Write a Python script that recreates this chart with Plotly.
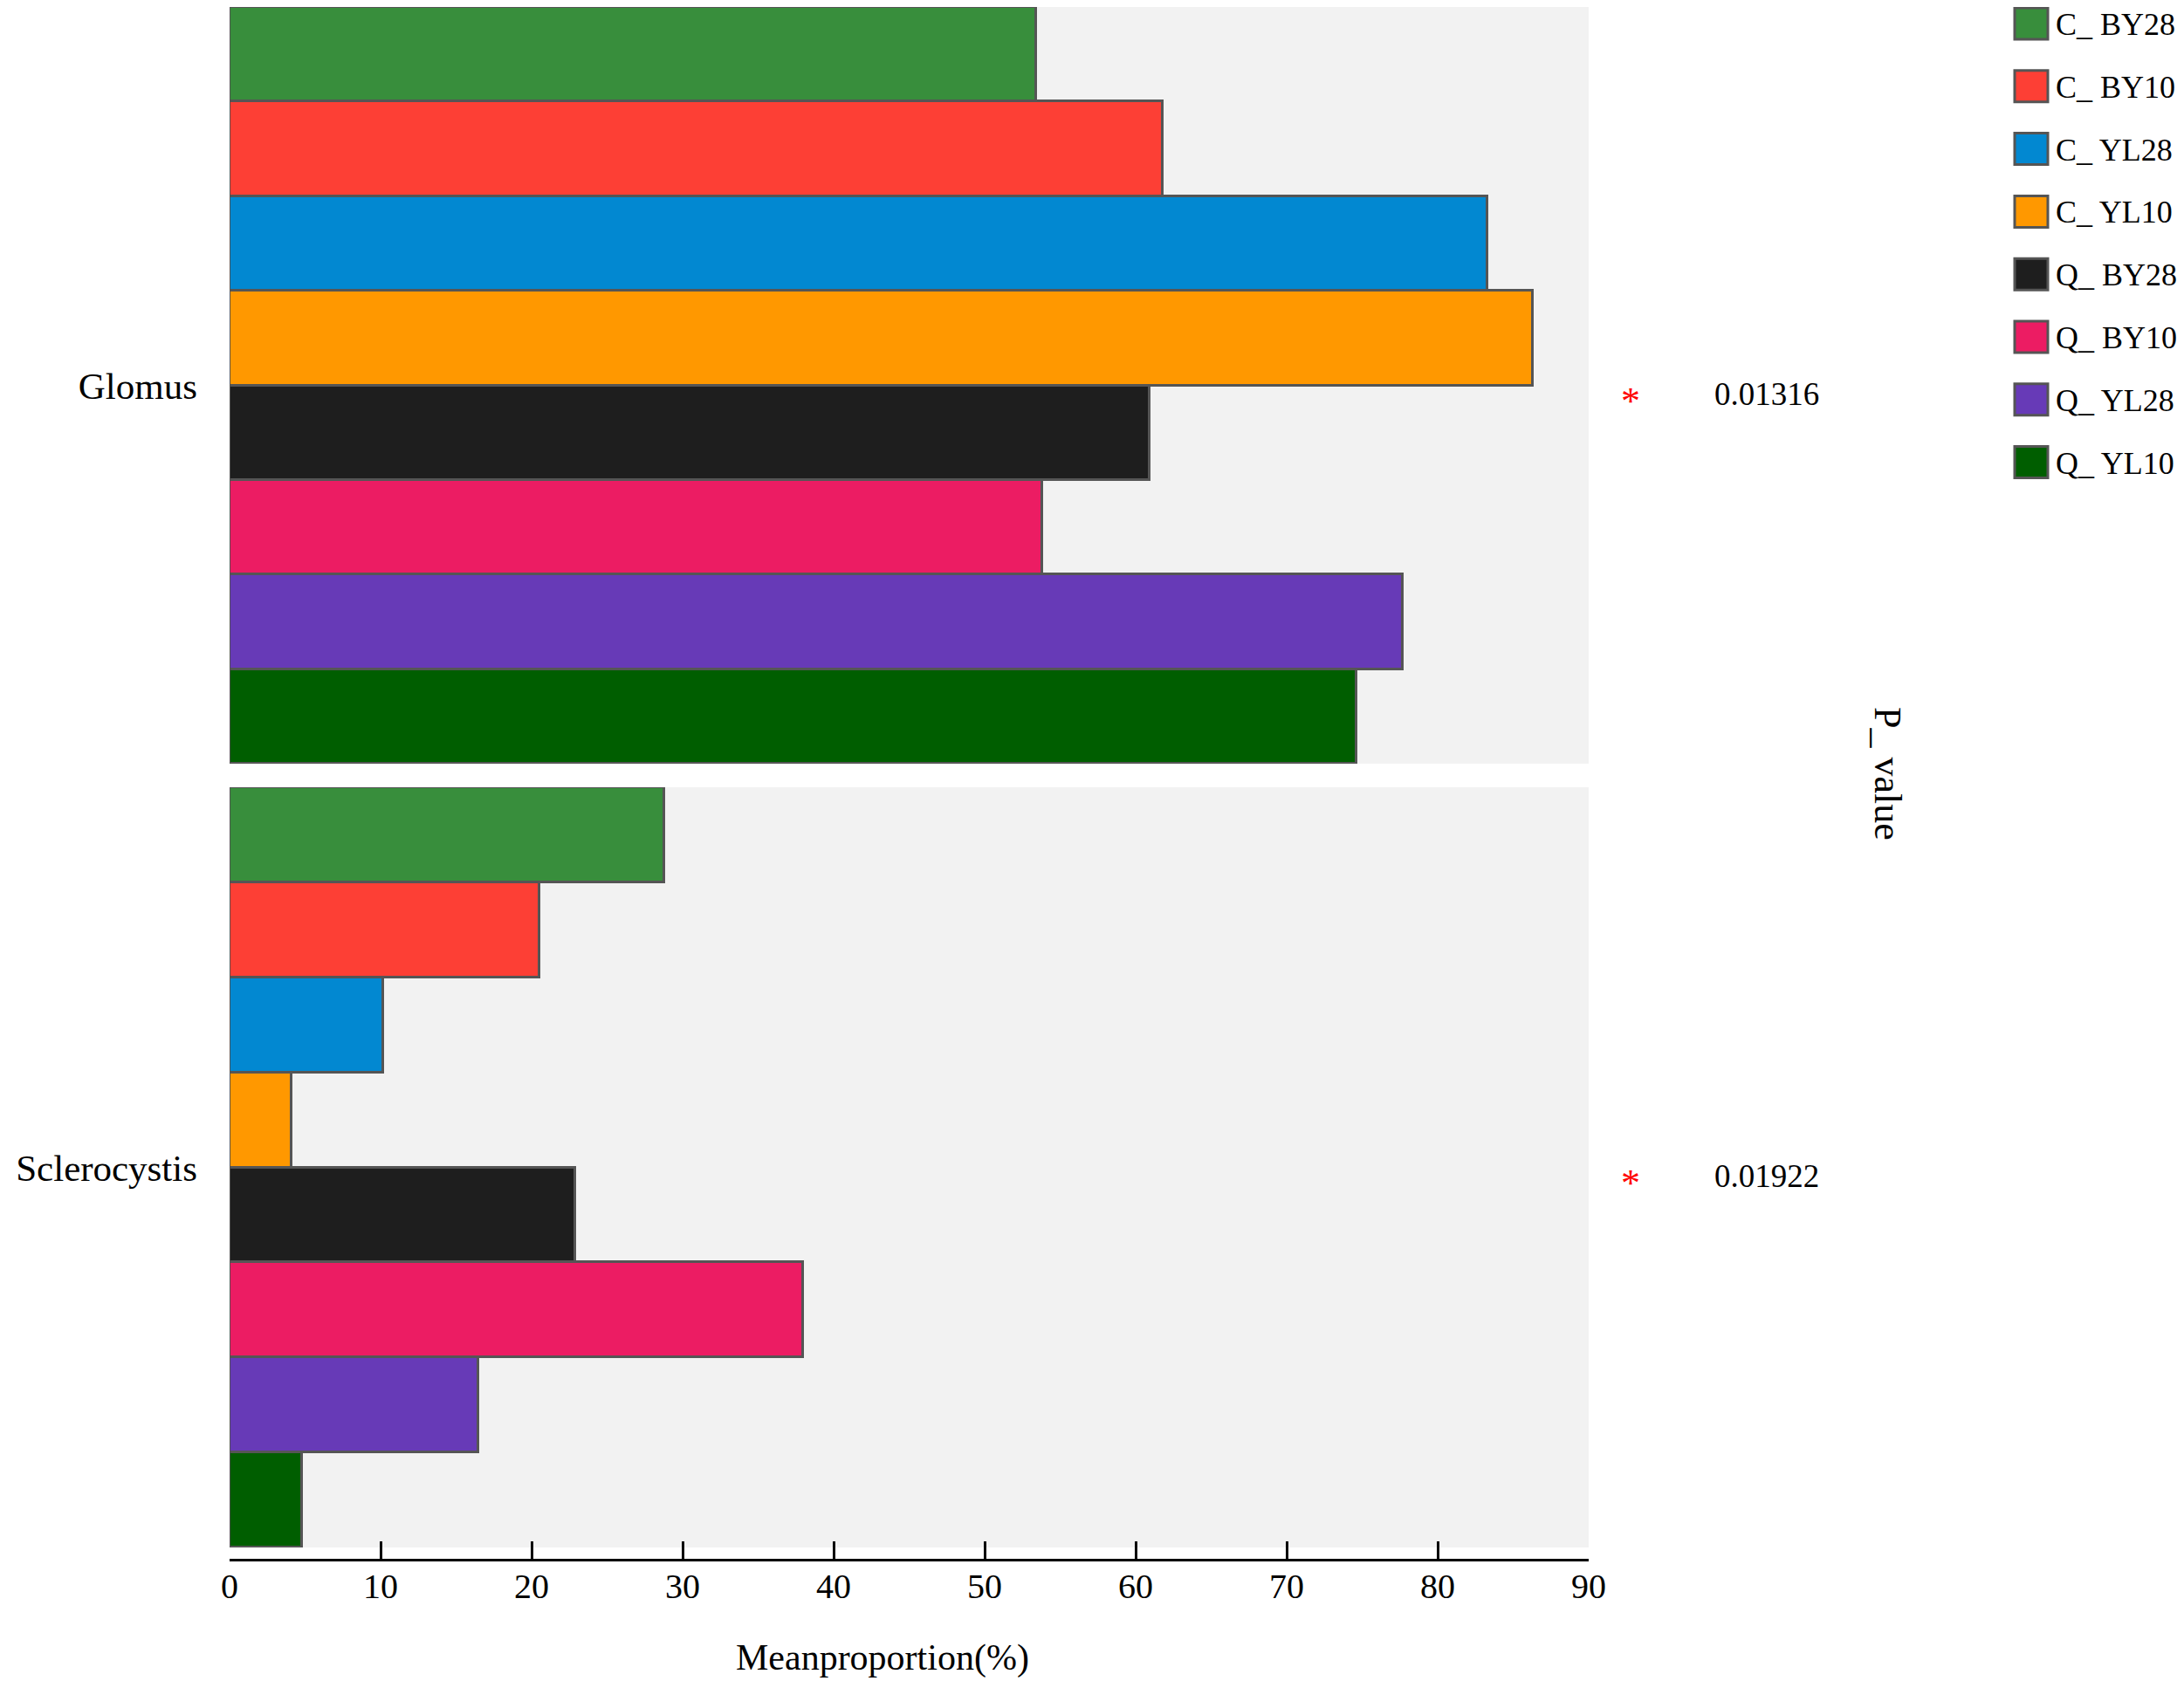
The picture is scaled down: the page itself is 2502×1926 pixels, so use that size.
import plotly.graph_objects as go

# data
genera = ["Glomus", "Sclerocystis"]
groups = ["C_ BY28", "C_ BY10", "C_ YL28", "C_ YL10", "Q_ BY28", "Q_ BY10", "Q_ YL28", "Q_ YL10"]
glomus_values = [53.4, 61.8, 83.3, 86.3, 60.9, 53.8, 77.7, 74.6]
sclerocystis_values = [28.8, 20.5, 10.2, 4.1, 22.9, 38.0, 16.5, 4.8]
p_values = ["0.01316", "0.01922"]

colors = ["#388E3C", "#FD3F35", "#0288D1", "#FF9800", "#1E1E1E", "#EC1C63", "#673AB7", "#005E00"]

FONT = "Liberation Serif"
W, H = 2502, 1926
OFF = 8  # the page body margin shifts the figure by 8px
M_L, M_R, M_T, M_B = 263 - OFF, 682 + OFF, 8 - OFF, 139 + OFF
PLOT_W = W - M_L - M_R
PLOT_H = H - M_T - M_B


def px_x(px):
    """Screen pixel x -> paper x."""
    return (px - OFF - M_L) / PLOT_W


def px_y(py):
    """Screen pixel y (from top) -> paper y."""
    return (H - M_B - (py - OFF)) / PLOT_H


fig = go.Figure()

panels = [("x", "y", glomus_values), ("x2", "y2", sclerocystis_values)]
for (xa, ya, values), genus in zip(panels, genera):
    for name, val, color in zip(groups, values, colors):
        fig.add_trace(
            go.Bar(
                x=[val],
                y=[genus],
                orientation="h",
                name=name,
                marker=dict(color=color, line=dict(color="#555555", width=3)),
                xaxis=xa,
                yaxis=ya,
                showlegend=False,
            )
        )

axis_y = dict(
    type="category",
    autorange="reversed",
    showline=False,
    showgrid=False,
    ticks="",
    ticklabelstandoff=36,
    tickfont=dict(family=FONT, size=43, color="black"),
)

fig.update_layout(
    width=W,
    height=H,
    margin=dict(l=M_L, r=M_R, t=M_T, b=M_B),
    paper_bgcolor="white",
    plot_bgcolor="#F2F2F2",
    barmode="group",
    bargap=0,
    bargroupgap=0,
    showlegend=False,
    font=dict(family=FONT, color="black"),
    xaxis=dict(domain=[0, 1], range=[0, 90], anchor="y", visible=False),
    yaxis=dict(domain=[px_y(875), px_y(8)], anchor="x", **axis_y),
    xaxis2=dict(
        domain=[0, 1],
        range=[0, 90],
        matches="x",
        anchor="free",
        position=0,
        tickmode="linear",
        tick0=0,
        dtick=10,
        ticks="inside",
        ticklen=20,
        tickwidth=3,
        tickcolor="black",
        showline=True,
        linecolor="black",
        linewidth=3,
        showgrid=False,
        zeroline=False,
        ticklabelstandoff=-6,
        tickfont=dict(family=FONT, size=40, color="black"),
    ),
    yaxis2=dict(domain=[px_y(1773), px_y(902)], anchor="x2", **axis_y),
)

# x axis title
fig.add_annotation(
    x=px_x(1011), y=px_y(1899), xref="paper", yref="paper", text="Meanproportion(%)",
    showarrow=False, xanchor="center", yanchor="middle",
    font=dict(family=FONT, size=42, color="black"),
)

# significance stars and p-values
for ya, pv in zip(["y", "y2"], p_values):
    fig.add_annotation(
        x=px_x(1868), y=0, xref="paper", yref=ya, text="*", showarrow=False,
        xanchor="center", font=dict(family=FONT, size=44, color="red"), yshift=-18,
    )
    fig.add_annotation(
        x=px_x(2024), y=0, xref="paper", yref=ya, text=pv, showarrow=False,
        xanchor="center", font=dict(family=FONT, size=37, color="black"), yshift=-10,
    )

fig.add_annotation(
    x=px_x(2163), y=px_y(886), xref="paper", yref="paper", text="P_ value",
    showarrow=False, textangle=90, xanchor="center", yanchor="middle",
    font=dict(family=FONT, size=44, color="black"),
)

# legend drawn by hand so the swatches match the reference size
for i, (name, color) in enumerate(zip(groups, colors)):
    cy = 27 + 71.8 * i
    fig.add_shape(
        type="rect", xref="paper", yref="paper",
        x0=px_x(2308), x1=px_x(2346), y0=px_y(cy + 18), y1=px_y(cy - 18),
        fillcolor=color, line=dict(color="#555555", width=3),
    )
    fig.add_annotation(
        x=px_x(2354), y=px_y(cy + 1), xref="paper", yref="paper", text=name,
        showarrow=False, xanchor="left", yanchor="middle", height=38, borderpad=0,
        font=dict(family=FONT, size=36, color="black"),
    )

fig.write_html("out.html")
